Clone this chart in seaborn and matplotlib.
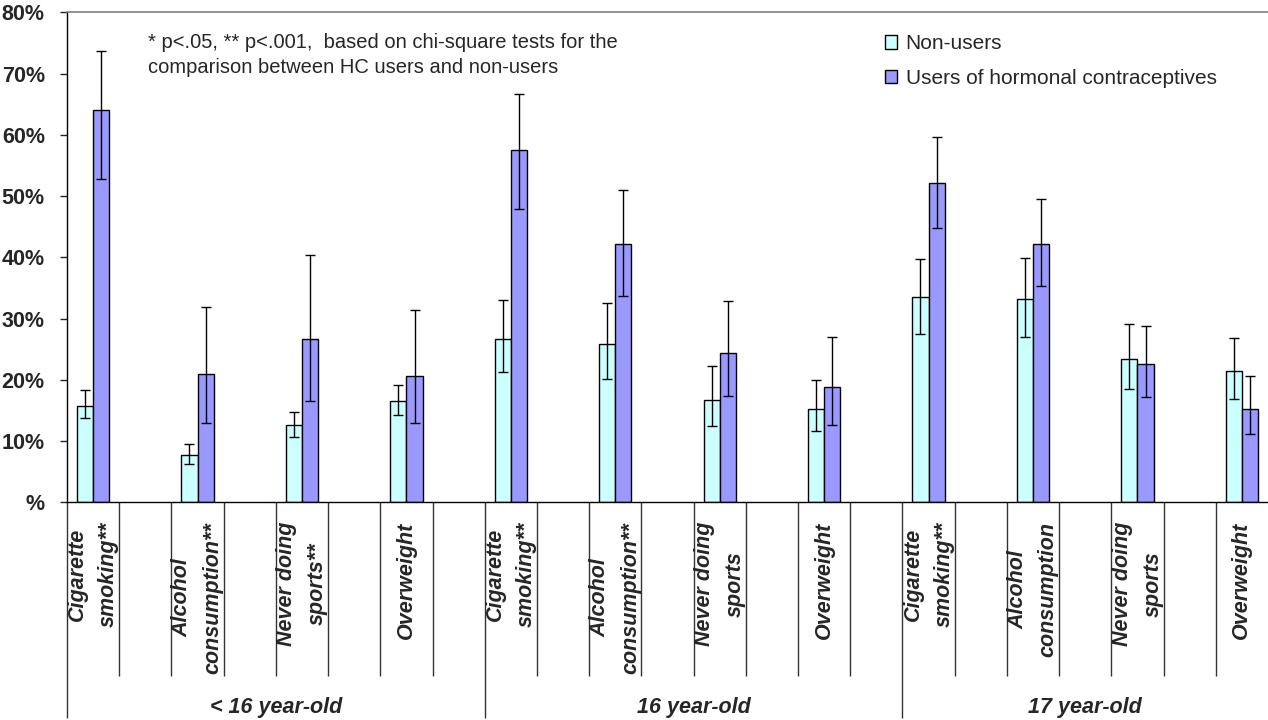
#!/usr/bin/env python
"""Health behaviours of adolescent girls by age group and hormonal contraceptive use."""
import matplotlib

matplotlib.use("Agg")
import matplotlib.pyplot as plt
import matplotlib.transforms as mtransforms
import pandas as pd
import seaborn as sns

# --- data (percentages) ---
age_groups = ["< 16 year-old", "16 year-old", "17 year-old"]
behaviours = [
    "Cigarette\nsmoking**", "Alcohol\nconsumption**", "Never doing\nsports**", "Overweight",
    "Cigarette\nsmoking**", "Alcohol\nconsumption**", "Never doing\nsports", "Overweight",
    "Cigarette\nsmoking**", "Alcohol\nconsumption", "Never doing\nsports", "Overweight",
]
series_names = ["Non-users", "Users of hormonal contraceptives"]

non_users = [15.8, 7.8, 12.7, 16.5, 26.7, 25.9, 16.7, 15.3, 33.5, 33.2, 23.4, 21.4]
non_users_lo = [13.8, 6.2, 10.7, 14.3, 21.2, 20.1, 12.5, 11.6, 27.4, 27.0, 18.5, 16.8]
non_users_hi = [18.3, 9.6, 14.7, 19.2, 33.0, 32.5, 22.3, 20.0, 39.7, 39.9, 29.1, 26.9]

users = [64.0, 20.9, 26.7, 20.7, 57.5, 42.1, 24.3, 18.9, 52.1, 42.1, 22.5, 15.3]
users_lo = [52.8, 12.9, 16.5, 12.9, 47.9, 33.7, 17.4, 12.7, 44.8, 35.3, 17.2, 11.2]
users_hi = [73.7, 31.9, 40.4, 31.4, 66.7, 51.0, 32.8, 27.0, 59.6, 49.5, 28.8, 20.7]

y_ticks = [0, 10, 20, 30, 40, 50, 60, 70, 80]
y_tick_labels = ["%", "10%", "20%", "30%", "40%", "50%", "60%", "70%", "80%"]

note = ("* p<.05, ** p<.001,  based on chi-square tests for the\n"
        "comparison between HC users and non-users")

COLORS = {"Non-users": "#CCFFFF", "Users of hormonal contraceptives": "#9999FF"}
ITEMS_PER_GROUP = 4


def build_frame():
    """Long-format table: one row per bar."""
    keys = [f"{i:02d}" for i in range(len(behaviours))]
    rows = []
    for series, vals, lo, hi in [
        (series_names[0], non_users, non_users_lo, non_users_hi),
        (series_names[1], users, users_lo, users_hi),
    ]:
        for k, v, l, h in zip(keys, vals, lo, hi):
            rows.append({"slot": k, "series": series, "value": v, "lo": l, "hi": h})
    return pd.DataFrame(rows), keys


def draw_axis_labels(ax):
    """Excel-style two-level category axis with separator lines."""
    trans = mtransforms.blended_transform_factory(ax.transData, ax.transAxes)
    n = len(behaviours)
    # separators between slots: each category is a labelled slot + an empty slot
    for k in range(2 * n):
        x = k * 0.5 - 0.25
        if x >= n - 0.75:
            break
        is_group = k % (2 * ITEMS_PER_GROUP) == 0
        y_end = -0.44 if is_group else -0.354
        ax.plot([x, x], [0, y_end], transform=trans, color="#333333", lw=1,
                clip_on=False, solid_capstyle="butt")

    for i, label in enumerate(behaviours):
        ax.text(i, -0.04, label, transform=trans, rotation=90, ha="center", va="top",
                multialignment="center", fontsize=15.5, fontweight="bold", fontstyle="italic",
                linespacing=1.6)

    right = n - 0.75
    for g, name in enumerate(age_groups):
        start = g * ITEMS_PER_GROUP - 0.25
        end = min(start + ITEMS_PER_GROUP, right)
        ax.text((start + end) / 2, -0.418, name, transform=trans, ha="center", va="center",
                fontsize=15.5, fontweight="bold", fontstyle="italic")


def main():
    sns.set_theme(style="white")
    plt.rcParams["font.family"] = ["Liberation Sans", "DejaVu Sans"]

    df, keys = build_frame()

    fig = plt.figure(figsize=(12.68, 7.2), dpi=100)
    ax = fig.add_axes([67 / 1268, 1 - 502.3 / 720, 1 - 67 / 1268, 490 / 720])

    sns.barplot(
        data=df, x="slot", y="value", hue="series", order=keys, hue_order=series_names,
        palette=COLORS, width=0.31, errorbar=None, edgecolor="black", linewidth=1,
        saturation=1, ax=ax,
    )

    # asymmetric confidence intervals on top of each bar
    for container, series in zip(ax.containers, series_names):
        sub = df[df["series"] == series].set_index("slot").loc[keys]
        xs = [p.get_x() + p.get_width() / 2 for p in container.patches]
        ax.errorbar(
            xs, sub["value"], yerr=[sub["value"] - sub["lo"], sub["hi"] - sub["value"]],
            fmt="none", ecolor="black", elinewidth=1, capsize=3.8, capthick=1, zorder=5,
        )

    ax.set_xlim(-0.25, len(behaviours) - 0.75)
    ax.set_ylim(0, 80)
    ax.set_yticks(y_ticks)
    ax.set_yticklabels(y_tick_labels, fontsize=15.5, fontweight="bold")
    ax.tick_params(axis="y", direction="out", length=5, width=1, pad=11, left=True)
    ax.set_xticks([])
    ax.set_xlabel("")
    ax.set_ylabel("")

    for side in ["left", "bottom"]:
        ax.spines[side].set_color("black")
        ax.spines[side].set_linewidth(1)
    ax.spines["top"].set_color("#808080")
    ax.spines["top"].set_linewidth(1.2)
    ax.spines["right"].set_visible(False)

    draw_axis_labels(ax)

    ax.text(0.0674, 0.958, note, transform=ax.transAxes, ha="left", va="top",
            fontsize=14.5, linespacing=1.4)

    ax.legend(
        title=None, loc="upper left", bbox_to_anchor=(0.681, 0.955), frameon=False,
        fontsize=15, handlelength=0.6, handleheight=0.6, handletextpad=0.4,
        labelspacing=0.75, borderpad=0, borderaxespad=0,
    )

    fig.savefig("out.png", dpi=100)


if __name__ == "__main__":
    main()
